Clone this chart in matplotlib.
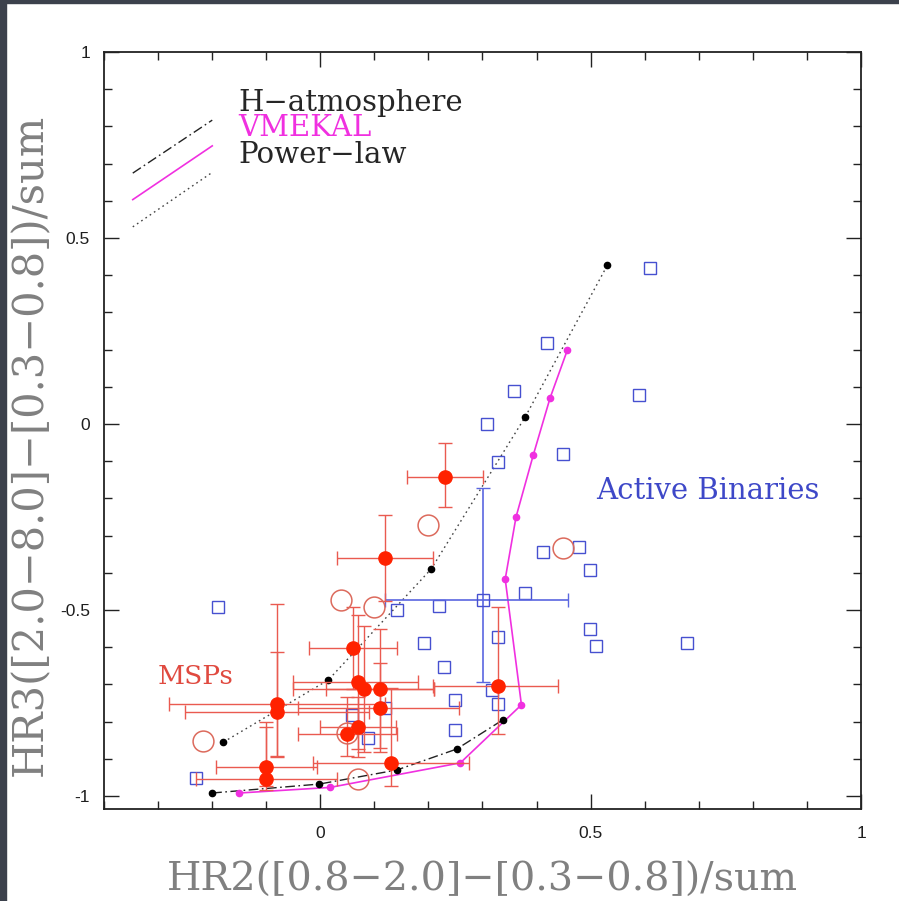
import numpy as np
import matplotlib.pyplot as plt
from matplotlib.patches import Rectangle

# ---- model tracks (HR2, HR3) ----
hatm_x = [-0.200, -0.002, 0.142, 0.252, 0.337]
hatm_y = [-0.992, -0.968, -0.930, -0.874, -0.796]

vmek_x = [-0.150, 0.018, 0.259, 0.372, 0.342, 0.362, 0.394, 0.425, 0.457]
vmek_y = [-0.992, -0.977, -0.911, -0.755, -0.417, -0.250, -0.083, 0.070, 0.199]

pl_x = [-0.179, 0.015, 0.205, 0.379, 0.531]
pl_y = [-0.855, -0.688, -0.390, 0.019, 0.427]

# ---- active binaries ----
ab_x = [0.610, 0.420, 0.359, 0.589, 0.309, 0.329, 0.449, 0.411, 0.479, 0.499,
        0.379, 0.141, 0.220, -0.190, 0.499, 0.510, 0.679, 0.329, 0.191, 0.229,
        0.250, 0.329, 0.250, 0.318, 0.120, 0.059, 0.089, -0.229]
ab_y = [0.419, 0.219, 0.089, 0.079, 0.000, -0.102, -0.081, -0.343, -0.331, -0.392,
        -0.454, -0.500, -0.490, -0.491, -0.551, -0.596, -0.590, -0.573, -0.590, -0.652,
        -0.742, -0.753, -0.823, -0.715, -0.763, -0.782, -0.843, -0.952]
# the one binary with error bars
abe_x = [0.300]
abe_y = [-0.473]
abe_xerr = [[0.180], [0.159]]
abe_yerr = [[0.221], [0.301]]

# ---- MSPs with errors ----
msp_x = [0.231, 0.120, 0.061, 0.070, 0.080, 0.111, 0.111, -0.080, -0.080,
         0.070, 0.050, -0.100, -0.100, 0.131, 0.329]
msp_y = [-0.143, -0.360, -0.602, -0.694, -0.712, -0.712, -0.763, -0.753, -0.774,
         -0.814, -0.833, -0.922, -0.954, -0.911, -0.704]
msp_xlo = [0.070, 0.089, 0.081, 0.120, 0.130, 0.100, 0.152, 0.200, 0.170,
           0.070, 0.091, 0.093, 0.130, 0.144, 0.120]
msp_xhi = [0.069, 0.089, 0.080, 0.110, 0.130, 0.100, 0.145, 0.200, 0.170,
           0.070, 0.091, 0.093, 0.130, 0.144, 0.110]
msp_ylo = [0.080, 0.115, 0.110, 0.180, 0.170, 0.160, 0.120, 0.140, 0.120,
           0.080, 0.060, 0.050, 0.030, 0.062, 0.129]
msp_yhi = [0.092, 0.115, 0.110, 0.180, 0.170, 0.160, 0.120, 0.140, 0.290,
           0.080, 0.100, 0.120, 0.140, 0.200, 0.212]

# MSPs without errors (open circles)
oc_x = [-0.216, 0.070, 0.039, 0.100, 0.200, 0.449, 0.050]
oc_y = [-0.852, -0.955, -0.473, -0.492, -0.272, -0.333, -0.831]

RED = '#ff2200'
ERR_RED = '#ea5a50'
BLUE = '#4650d0'
MAG = '#f030e0'
SERIF = 'DejaVu Serif'
DASHDOT = (0, (7, 2.5, 1.2, 2.5))
DOTTED = (0, (1.2, 2.5))

fig = plt.figure(figsize=(8.99, 9.01), dpi=100, facecolor='white')
# dark frame strips along the top and left edges
fig.patches.append(Rectangle((0, 0), 6 / 899, 1, transform=fig.transFigure,
                             color='#3c414c', zorder=0))
fig.patches.append(Rectangle((0, 1 - 3 / 901), 1, 3 / 901, transform=fig.transFigure,
                             color='#3c414c', zorder=0))

ax = fig.add_axes([104 / 899, 92 / 901, 757 / 899, 757 / 901])

# model curves
ax.plot(pl_x, pl_y, color='#444444', lw=1, ls=DOTTED, zorder=2)
ax.plot(pl_x, pl_y, 'o', color='black', ms=4.5, zorder=3)
ax.plot(hatm_x, hatm_y, color='#222222', lw=1, ls=DASHDOT, zorder=2)
ax.plot(hatm_x, hatm_y, 'o', color='black', ms=4.5, zorder=3)
ax.plot(vmek_x, vmek_y, color=MAG, lw=1.2, zorder=2)
ax.plot(vmek_x, vmek_y, 'o', color=MAG, ms=4.5, zorder=3)

# active binaries
ax.plot(ab_x, ab_y, 's', mfc='none', mec=BLUE, mew=1, ms=8, zorder=4)
ax.errorbar(abe_x, abe_y, xerr=abe_xerr, yerr=abe_yerr, fmt='s', mfc='none',
            mec=BLUE, ms=8, ecolor='#5a66e0', elinewidth=1.2, capsize=5, zorder=4)

# MSPs
ax.errorbar(msp_x, msp_y, xerr=[msp_xlo, msp_xhi], yerr=[msp_ylo, msp_yhi],
            fmt='none', ecolor=ERR_RED, elinewidth=1, capsize=5, capthick=1, zorder=5)
ax.plot(oc_x, oc_y, 'o', mfc='none', mec='#dc6a5c', mew=1.1, ms=15, zorder=6)
ax.plot(msp_x, msp_y, 'o', color=RED, ms=9.5, zorder=7)

ax.text(-0.231, -0.680, 'MSPs', color='#e04a40', fontsize=19, family=SERIF,
        ha='center', va='center')
ax.text(0.716, -0.180, 'Active Binaries', color='#3e48c8', fontsize=21,
        family=SERIF, ha='center', va='center')

# legend key drawn as short slanted segments
ax.plot([0.038, 0.143], [0.840, 0.910], transform=ax.transAxes, color='#222222',
        lw=1, ls=DASHDOT)
ax.plot([0.038, 0.143], [0.805, 0.876], transform=ax.transAxes, color=MAG, lw=1.2)
ax.plot([0.038, 0.143], [0.769, 0.841], transform=ax.transAxes, color='#444444',
        lw=1, ls=DOTTED)
ax.text(0.177, 0.933, 'H\u2212atmosphere', transform=ax.transAxes, color='#262626',
        fontsize=21, family=SERIF, va='center')
ax.text(0.177, 0.899, 'VMEKAL', transform=ax.transAxes, color=MAG,
        fontsize=21, family=SERIF, va='center')
ax.text(0.177, 0.864, 'Power\u2212law', transform=ax.transAxes, color='#262626',
        fontsize=21, family=SERIF, va='center')

ax.set_xlim(-0.4, 1.0)
ax.set_ylim(-1.035, 1.0)
ax.set_xticks([0, 0.5, 1])
ax.set_xticklabels(['0', '0.5', '1'])
ax.set_yticks([-1, -0.5, 0, 0.5, 1])
ax.set_yticklabels(['-1', '-0.5', '0', '0.5', '1'])
ax.set_xticks(np.arange(-0.4, 1.001, 0.1), minor=True)
ax.set_yticks(np.arange(-1.0, 1.001, 0.1), minor=True)
ax.tick_params(which='both', direction='in', top=True, right=True,
               color='#222222', width=1)
ax.tick_params(which='major', length=11, labelsize=12.5, labelcolor='#1e1e1e')
ax.tick_params(which='minor', length=5.5)
ax.tick_params(axis='x', pad=12)
ax.tick_params(axis='y', pad=10)
for lab in ax.get_xticklabels() + ax.get_yticklabels():
    lab.set_family('Liberation Sans')
for sp in ax.spines.values():
    sp.set_linewidth(1.3)
    sp.set_color('#222222')

ax.set_xlabel('HR2([0.8\u22122.0]\u2212[0.3\u22120.8])/sum', fontsize=28.5,
              family=SERIF, color='#808080', va='center')
ax.set_ylabel('HR3([2.0\u22128.0]\u2212[0.3\u22120.8])/sum', fontsize=30,
              family=SERIF, color='#808080', va='center')
ax.xaxis.set_label_coords(0.5, -0.094)
ax.yaxis.set_label_coords(-0.098, 0.481)

fig.savefig('out.png', dpi=100)
